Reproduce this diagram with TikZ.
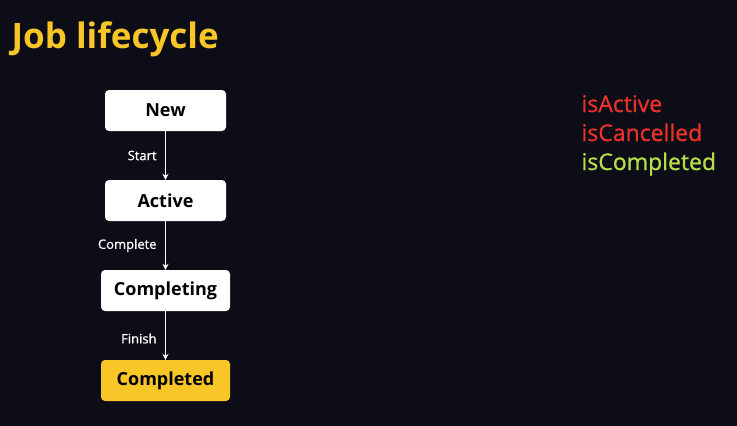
\documentclass[tikz,border=0pt]{standalone}
\usepackage{fontspec}
\setmainfont{Open Sans}
\newfontfamily\medfont[FakeBold=0.8]{Open Sans}
\usepackage{tikz}
\usetikzlibrary{arrows.meta, positioning}
\definecolor{bgnavy}{RGB}{12,13,23}
\definecolor{jobyellow}{RGB}{249,198,40}
\definecolor{flagred}{RGB}{232,50,42}
\definecolor{flaggreen}{RGB}{182,224,74}

\begin{document}
\begin{tikzpicture}[
    x=1pt, y=-1pt,
    >={Stealth[length=6pt, width=6pt]},
    state/.style={rounded corners=4pt, fill=white, minimum height=41pt, align=center, font=\fontsize{18}{20}\selectfont\bfseries, text=black},
    trans/.style={->, white, line width=1.2pt},
    translabel/.style={left, font=\medfont\fontsize{13}{15}\selectfont, text=white},
    flag/.style={anchor=base west, font=\medfont\fontsize{23}{25}\selectfont},
]
    \fill[bgnavy] (0,0) rectangle (737,426);
    \useasboundingbox (0,0) rectangle (737,426);

    \node[anchor=west, text=jobyellow, font=\fontsize{35}{38}\selectfont\bfseries] (title) at (8,39) {Job lifecycle};

    \node[state, minimum width=121pt] (new) at (165.5,110.5) {New};
    \node[state, minimum width=121pt] (active) at (165.5,200.5) {Active};
    \node[state, minimum width=129pt] (completing) at (165.5,290.5) {Completing};
    \node[state, minimum width=129pt, fill=jobyellow] (completed) at (165.5,380.5) {Completed};

    \draw[trans] (new) -- node[translabel, xshift=-5pt] {Start} (active);
    \draw[trans] (active) -- node[translabel, xshift=-5pt] {Complete} (completing);
    \draw[trans] (completing) -- node[translabel, xshift=-5pt, yshift=-3pt] {Finish} (completed);

    \node[flag, text=flagred] (isactive) at (578,112) {isActive};
    \node[flag, text=flagred] (iscancelled) at (578,141) {isCancelled};
    \node[flag, text=flaggreen] (iscompleted) at (578,170) {isCompleted};
\end{tikzpicture}
\end{document}
